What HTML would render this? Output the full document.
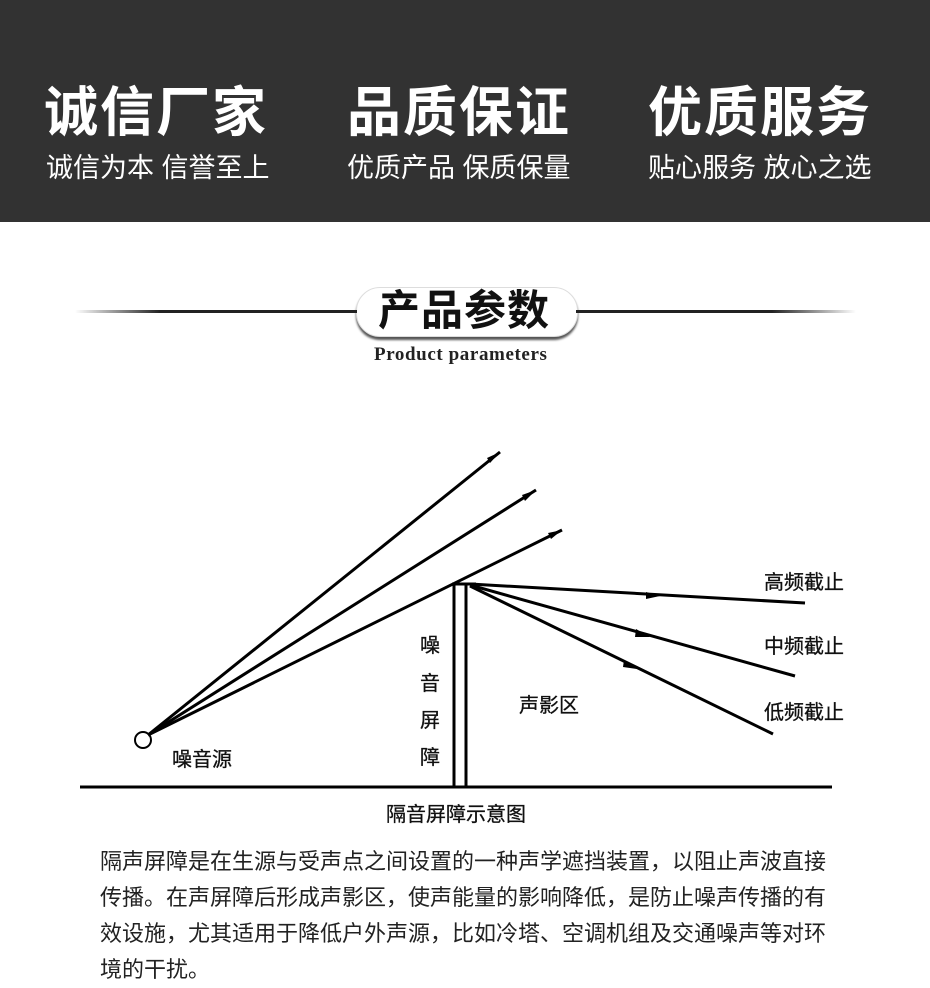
<!DOCTYPE html>
<html><head><meta charset="utf-8"><style>
body{margin:0;width:930px;height:983px;background:#fff;position:relative;overflow:hidden;font-family:"Liberation Sans","Noto Sans CJK SC",sans-serif}
.hd{position:absolute;left:0;top:0;width:930px;height:222px;background:#323232}
.t{position:absolute;color:#fff;white-space:nowrap}
.big{font-size:54px;font-weight:bold;top:68px;letter-spacing:2px}
.sm{font-size:27px;top:146px}
p{position:absolute;left:100px;top:844px;margin:0;font-size:22px;line-height:36px;color:#222;white-space:nowrap}
</style></head><body>
<div class="hd"></div>
<div class="t big" style="left:44px">诚信厂家</div>
<div class="t big" style="left:347px">品质保证</div>
<div class="t big" style="left:648px">优质服务</div>
<div class="t sm" style="left:46px">诚信为本 信誉至上</div>
<div class="t sm" style="left:347px">优质产品 保质保量</div>
<div class="t sm" style="left:648px">贴心服务 放心之选</div>
<div style="position:absolute;left:356px;top:287px;width:220px;height:48px;border-radius:24px;border:1px solid #ddd;box-shadow:0 3px 2px #555;background:#fff"></div>
<div style="position:absolute;left:378px;top:287px;font-size:42px;font-weight:bold;color:#111;letter-spacing:1px;line-height:48px">产品参数</div>
<div style="position:absolute;left:374px;top:344px;font-family:'Liberation Serif',serif;font-size:19px;font-weight:bold;color:#222;letter-spacing:0.6px">Product parameters</div>
<svg style="position:absolute;left:0;top:0" width="930" height="983" font-family="Liberation Sans,Noto Sans CJK SC,sans-serif">
<defs><linearGradient id="g1"><stop offset="0" stop-color="#fff"/><stop offset="0.3" stop-color="#222"/></linearGradient>
<linearGradient id="g2"><stop offset="0.7" stop-color="#222"/><stop offset="1" stop-color="#fff"/></linearGradient></defs>
<rect x="75" y="310" width="282" height="3" fill="url(#g1)"/>
<rect x="576" y="310" width="280" height="3" fill="url(#g2)"/>
<g stroke="#000" stroke-width="3" fill="none">
<circle cx="143" cy="740" r="8" stroke-width="2"/>
<line x1="148" y1="735" x2="500" y2="452"/>
<line x1="148" y1="735" x2="536" y2="490"/>
<line x1="148" y1="735" x2="562" y2="530"/>
<line x1="454" y1="584" x2="454" y2="787"/>
<line x1="466" y1="584" x2="466" y2="787"/>
<line x1="452" y1="584" x2="476" y2="584"/>
<line x1="470" y1="584" x2="805" y2="603"/>
<line x1="470" y1="585" x2="795" y2="676"/>
<line x1="470" y1="586" x2="773" y2="734"/>
<line x1="80" y1="787" x2="832" y2="787"/>
</g>
<g fill="#000">
<polygon points="500,452 487,458 490,463"/>
<polygon points="536,490 522,495 525,501"/>
<polygon points="562,530 548,533 551,539"/>
<polygon points="646,592 660,596 646,599"/>
<polygon points="636,629 650,637 635,637"/>
<polygon points="624,660 637,669 623,667"/>
</g>
<g font-size="20" fill="#111" stroke="#111" stroke-width="0.3">
<text x="764" y="589">高频截止</text>
<text x="764" y="653">中频截止</text>
<text x="764" y="719">低频截止</text>
<text x="519" y="712">声影区</text>
<text x="172" y="766">噪音源</text>
<text x="420" y="652">噪</text>
<text x="420" y="690">音</text>
<text x="420" y="727">屏</text>
<text x="420" y="764">障</text>
<text x="386" y="821">隔音屏障示意图</text>
</g>
</svg>
<p>隔声屏障是在生源与受声点之间设置的一种声学遮挡装置，以阻止声波直接<br>传播。在声屏障后形成声影区，使声能量的影响降低，是防止噪声传播的有<br>效设施，尤其适用于降低户外声源，比如冷塔、空调机组及交通噪声等对环<br>境的干扰。</p>
</body></html>
